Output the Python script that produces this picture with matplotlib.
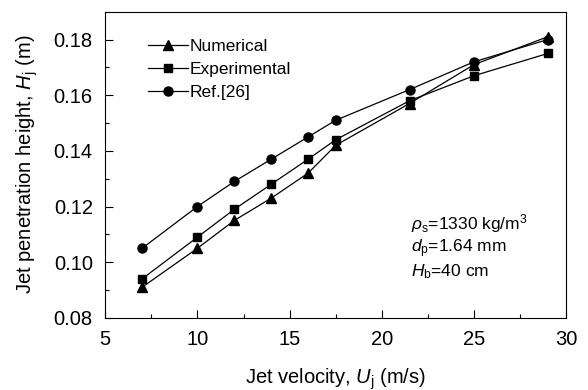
import matplotlib
matplotlib.use("Agg")
import matplotlib.pyplot as plt
from matplotlib.ticker import MultipleLocator, FormatStrFormatter

plt.rcParams["font.family"] = ["Liberation Sans", "DejaVu Sans"]
plt.rcParams["mathtext.fontset"] = "custom"
plt.rcParams["mathtext.rm"] = "Liberation Sans"
plt.rcParams["mathtext.it"] = "Liberation Sans:italic"

# jet velocity (m/s)
velocity = [7, 10, 12, 14, 16, 17.5, 21.5, 25, 29]
# jet penetration height (m)
numerical = [0.091, 0.105, 0.115, 0.123, 0.132, 0.142, 0.157, 0.171, 0.181]
experimental = [0.094, 0.109, 0.119, 0.128, 0.137, 0.144, 0.158, 0.167, 0.175]
ref26 = [0.105, 0.120, 0.129, 0.137, 0.145, 0.151, 0.162, 0.172, 0.180]

fig, ax = plt.subplots(figsize=(5.88, 3.9), dpi=100)
kw = dict(color="black", lw=0.9)
ax.plot(velocity, numerical, marker="^", ms=7, label="Numerical", **kw)
ax.plot(velocity, experimental, marker="s", ms=6, label="Experimental", **kw)
ax.plot(velocity, ref26, marker="o", ms=6.5, label="Ref.[26]", **kw)

ax.set_xlim(5, 30)
ax.set_ylim(0.08, 0.19)
ax.xaxis.set_major_locator(MultipleLocator(5))
ax.xaxis.set_minor_locator(MultipleLocator(2.5))
ax.yaxis.set_major_locator(MultipleLocator(0.02))
ax.yaxis.set_minor_locator(MultipleLocator(0.01))
ax.yaxis.set_major_formatter(FormatStrFormatter("%.2f"))
ax.tick_params(which="both", direction="in", labelsize=14.5, width=0.8)
ax.tick_params(which="major", length=6, pad=9)
ax.tick_params(which="minor", length=3)
for s in ax.spines.values():
    s.set_linewidth(0.8)

ax.set_xlabel(r"Jet velocity, $\mathit{U}_\mathrm{j}$ (m/s)", fontsize=14.5, labelpad=12)
ax.set_ylabel(r"Jet penetration height, $\mathit{H}_\mathrm{j}$ (m)", fontsize=14.5, labelpad=10)

ax.legend(loc="upper left", bbox_to_anchor=(0.07, 0.945), frameon=False,
          fontsize=12.5, handlelength=2.3, handletextpad=0.1, labelspacing=0.45,
          borderaxespad=0.2)

ax.text(21.6, 0.118,
        r"$\rho_\mathrm{s}$=1330 kg/m$^3$" "\n"
        r"$\mathit{d}_\mathrm{p}$=1.64 mm" "\n"
        r"$\mathit{H}_\mathrm{b}$=40 cm",
        fontsize=12.5, va="top", linespacing=1.15)

fig.subplots_adjust(left=0.179, right=0.963, top=0.97, bottom=0.185)
fig.savefig("out.png", dpi=100)
